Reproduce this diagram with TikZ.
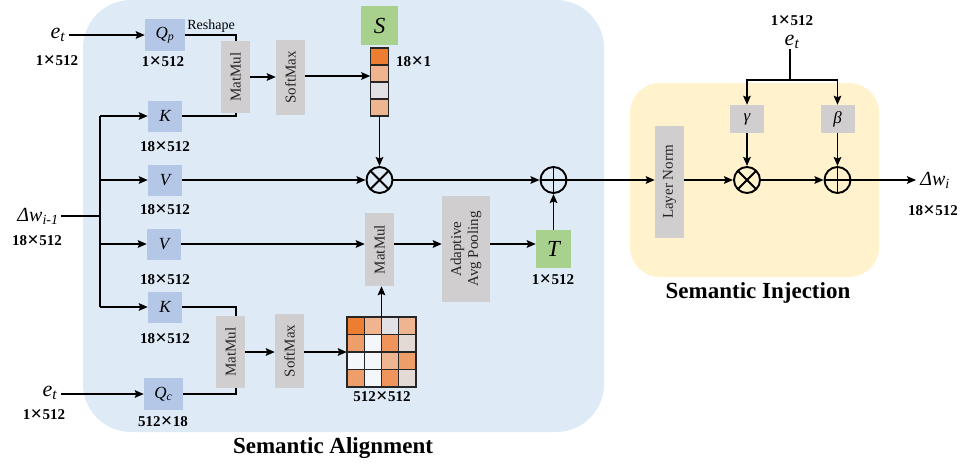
\documentclass[tikz,border=0pt]{standalone}
\usepackage{graphicx}
\usepackage{fontspec}
\setmainfont{Liberation Serif}
\usetikzlibrary{arrows.meta,calc}
\definecolor{bgblue}{HTML}{DEEAF6}
\definecolor{bgyel}{HTML}{FFF2CC}
\definecolor{qblue}{HTML}{B4C7E7}
\definecolor{ggray}{HTML}{D0CECE}
\definecolor{ggreen}{HTML}{A9D18E}
\definecolor{oA}{HTML}{ED7D31}
\definecolor{oB}{HTML}{EE9E69}
\definecolor{oC}{HTML}{EF955B}
\definecolor{oD}{HTML}{EDB590}
\definecolor{oE}{HTML}{F0B48E}
\definecolor{gA}{HTML}{E1E1E6}
\definecolor{gB}{HTML}{E3D9D5}
\definecolor{wA}{HTML}{F3F7FC}
\newcommand{\X}{\makebox[0.82em]{\raisebox{-0.07em}{\scalebox{1.35}{×}}}}
\begin{document}
\begin{tikzpicture}[x=1pt,y=-1pt,
  arr/.style={-{Stealth[length=9pt,width=7.5pt,inset=1.5pt]}, line width=1.9pt},
  ln/.style={line width=1.9pt},
  bluebox/.style={fill=qblue, minimum width=34pt, minimum height=31pt, inner sep=0pt, font=\fontsize{17}{17}\selectfont\itshape},
  greenbox/.style={fill=ggreen, minimum width=35pt, minimum height=38pt, inner sep=0pt, font=\fontsize{23}{23}\selectfont\itshape},
  graybox/.style={fill=ggray, minimum width=29pt, minimum height=72pt, inner sep=0pt},
  gtext/.style={rotate=90, font=\fontsize{15}{17}\selectfont, text=black!85, align=center},
  dim/.style={font=\fontsize{15}{15}\selectfont\bfseries, inner sep=0pt},
  lab/.style={font=\fontsize{22}{22}\selectfont\itshape, inner sep=0pt},
  title/.style={font=\fontsize{23}{23}\selectfont\bfseries, inner sep=0pt},
  otimes/.style={circle, draw, line width=1.9pt, minimum size=26pt, inner sep=0pt,
    path picture={\draw[line width=1.9pt] (path picture bounding box.north west) -- (path picture bounding box.south east) (path picture bounding box.north east) -- (path picture bounding box.south west);}},
  oplus/.style={circle, draw, line width=1.9pt, minimum size=26pt, inner sep=0pt,
    path picture={\draw[line width=1.9pt] (path picture bounding box.north) -- (path picture bounding box.south) (path picture bounding box.east) -- (path picture bounding box.west);}},
  cell/.style={draw=black!85, line width=1.1pt}
]
\useasboundingbox (0,0) rectangle (964,467);
\fill[bgblue, rounded corners=48pt] (83,0) rectangle (604,432);
\fill[bgyel, rounded corners=30pt] (630,83) rectangle (879,277);

% titles
\node[title] (tA) at (333,448) {Semantic Alignment};
\node[title] (tI) at (758,293) {Semantic Injection};

% inputs
\node[lab] (et1) at (58,35) {e\textsubscript{t}};
\node[dim] (et1d) at (57,61) {1\X512};
\node[lab] (et2) at (50,393) {e\textsubscript{t}};
\node[dim] (et2d) at (44,415) {1\X512};
\node[font=\fontsize{20}{20}\selectfont\itshape, inner sep=0pt] (dw) at (38,216) {Δw\textsubscript{i-1}};
\node[dim] (dwd) at (37,241) {18\X512};

% blue boxes
\node[bluebox, minimum width=40pt, minimum height=32pt] (qp) at (165,35) {Q\textsubscript{p}};
\node[dim] (qpd) at (163,62) {1\X512};
\node[font=\fontsize{14}{14}\selectfont, inner sep=0pt] (resh) at (211,26) {Reshape};
\node[bluebox] (k1) at (165,116) {K};
\node[dim] (k1d) at (165,147) {18\X512};
\node[bluebox] (v1) at (165,180) {V};
\node[dim] (v1d) at (165,210) {18\X512};
\node[bluebox] (v2) at (164,244) {V};
\node[dim] (v2d) at (165,280) {18\X512};
\node[bluebox] (k2) at (165,307) {K};
\node[dim] (k2d) at (165,339) {18\X512};
\node[bluebox, minimum width=39pt, minimum height=32pt] (qc) at (163.5,394) {Q\textsubscript{c}};
\node[dim] (qcd) at (163,422) {512\X18};

% gray boxes
\node[graybox] (mm1) at (235.5,77) {};
\node[gtext] at (mm1) {MatMul};
\node[graybox, minimum height=75pt] (sm1) at (290.5,77.5) {};
\node[gtext] at (sm1) {SoftMax};
\node[graybox] (mm2) at (230.5,352) {};
\node[gtext] at (mm2) {MatMul};
\node[graybox, minimum height=74pt] (sm2) at (289.5,351) {};
\node[gtext] at (sm2) {SoftMax};
\node[graybox, minimum height=73pt] (mm3) at (379.5,249.5) {};
\node[gtext] at (mm3) {MatMul};
\node[graybox, minimum width=48pt, minimum height=106pt] (aap) at (466,249) {};
\node[gtext] at (aap) {Adaptive\\Avg Pooling};

% S and T
\node[greenbox, minimum width=37pt, minimum height=39pt] (S) at (379.5,25.5) {S};
\node[minimum width=18pt, minimum height=68pt, inner sep=0pt] (scol) at (379.5,82) {};
\filldraw[cell, fill=oA] (370.5,48) rectangle (388.5,65);
\filldraw[cell, fill=oE] (370.5,65) rectangle (388.5,82);
\filldraw[cell, fill=gA] (370.5,82) rectangle (388.5,99);
\filldraw[cell, fill=oD] (370.5,99) rectangle (388.5,116);
\node[dim, anchor=west] (scold) at (396,62) {18\X1};
\node[greenbox] (T) at (553.5,249) {T};
\node[dim] (Td) at (553,280) {1\X512};

% matrix
\node[minimum width=69pt, minimum height=70pt, inner sep=0pt] (mat) at (381.5,352) {};
\foreach \r/\c/\col in {0/0/oA,0/1/oE,0/2/gA,0/3/oD,
                        1/0/oB,1/1/wA,1/2/oC,1/3/gB,
                        2/0/wA,2/1/wA,2/2/oD,2/3/oB,
                        3/0/oB,3/1/wA,3/2/oC,3/3/gB}
  \filldraw[cell, fill=\col] ($(347,317)+(\c*17.25,\r*17.5)$) rectangle ++(17.25,17.5);
\node[dim] (matd) at (382,397) {512\X512};

% circles
\node[otimes] (ot1) at (379.5,180) {};
\node[oplus] (op1) at (553.5,180) {};

% injection
\node[graybox, minimum height=112pt] (lnb) at (669.5,182) {};
\node[gtext] at (lnb) {Layer Norm};
\node[fill=ggray, minimum width=34pt, minimum height=28pt, inner sep=0pt, font=\fontsize{17}{17}\selectfont\itshape] (gam) at (747,119) {γ};
\node[fill=ggray, minimum width=34pt, minimum height=28pt, inner sep=0pt, font=\fontsize{17}{17}\selectfont\itshape] (bet) at (837.5,119) {β};
\node[otimes] (ot2) at (747,180) {};
\node[oplus] (op2) at (837.5,180) {};
\node[lab] (et3) at (792,42) {e\textsubscript{t}};
\node[dim] (et3d) at (792,21) {1\X512};
\node[font=\fontsize{20}{20}\selectfont\itshape, inner sep=0pt] (dwo) at (935,180) {Δw\textsubscript{i}};
\node[dim] (dwod) at (933,211) {18\X512};
\coordinate (jn) at (790,80);

% connectors, left
\draw[arr] (et1.east |- qp.west) ++(4,0) -- (qp.west);
\draw[arr] (et2.east |- qc.west) ++(4,0) -- (qc.west);
\draw[ln] (qp.east) -| ($(mm1.north)+(0.5,0)$);
\draw[ln] (k1.east) -| ($(mm1.south)+(0.5,0)$);
\draw[ln] (k2.east) -| ($(mm2.north)+(5.5,0)$);
\draw[ln] (qc.east) -| ($(mm2.south)+(5.5,0)$);
\coordinate (trunk) at (100,216);
\draw[ln] (dw.east) ++(2,0) -- (trunk);
\draw[ln] (100,116) -- (100,307);
\draw[arr] (100,116) -- (k1.west);
\draw[arr] (100,180) -- (v1.west);
\draw[arr] (100,244) -- (v2.west);
\draw[arr] (100,307) -- (k2.west);
\draw[arr] (mm1.east) -- (sm1.west |- mm1.east);
\draw[arr] (sm1.east |- 0,76) -- (scol.west |- 0,76);
\draw[arr] (scol.south) -- (ot1.north);
\draw[arr] (v1.east) -- (ot1.west);
\draw[arr] (ot1.east) -- (op1.west);
\draw[arr] (mm2.east) -- (sm2.west |- mm2.east);
\draw[arr] (sm2.east |- 0,352) -- (mat.west |- 0,352);
\draw[arr] (mat.north) -- (mat.north |- mm3.south);
\draw[arr] (v2.east) -- (mm3.west |- v2.east);
\draw[arr] (mm3.east |- 0,244) -- (aap.west |- 0,244);
\draw[arr] (aap.east |- 0,244) -- (T.west |- 0,244);
\draw[arr] (T.north) -- (op1.south);

% connectors, right
\draw[arr] (op1.east) -- (lnb.west |- op1.east);
\draw[arr] (lnb.east |- ot2.west) -- (ot2.west);
\draw[arr] (ot2.east) -- (op2.west);
\draw[arr, shorten >=4pt] (op2.east) -- (dwo.west);
\draw[ln] (et3.south) ++(-2,0) -- (jn);
\draw[arr] (jn) -| (gam.north);
\draw[arr] (jn) -| (bet.north);
\draw[arr] (gam.south) -- (ot2.north);
\draw[arr] (bet.south) -- (op2.north);
\end{tikzpicture}
\end{document}
